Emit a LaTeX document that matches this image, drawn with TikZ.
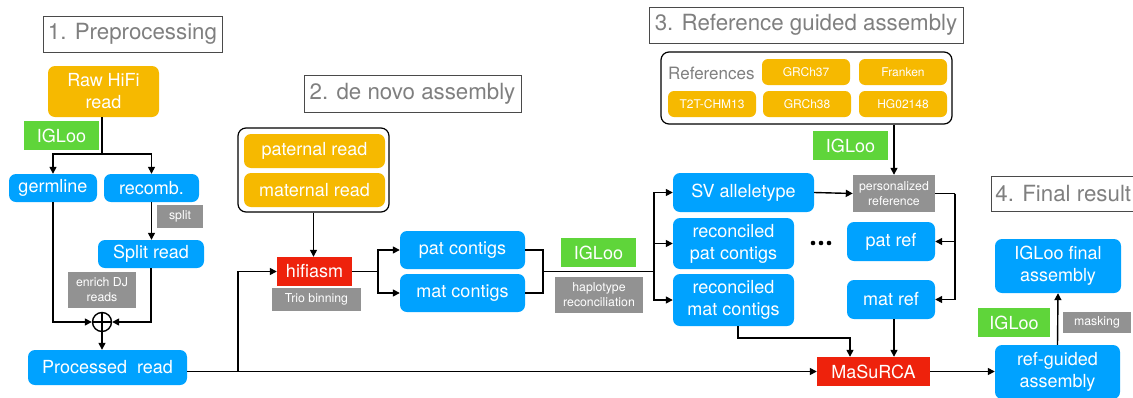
\documentclass[tikz,border=0pt]{standalone}
\usepackage{fontspec}
\setmainfont{TeX Gyre Heros}
\usetikzlibrary{arrows.meta}
\definecolor{kOrange}{HTML}{F6B900}
\definecolor{kBlue}{HTML}{00A2FF}
\definecolor{kGreen}{HTML}{5FD53A}
\definecolor{kRed}{HTML}{EE220C}
\definecolor{kGray}{HTML}{929292}
\definecolor{kTitle}{HTML}{7F7F7F}
\definecolor{kFrame}{HTML}{4A4A4A}
\newcommand\fsMain{\fontsize{18}{22}\selectfont}
\newcommand\fsSmall{\fontsize{12.3}{14.8}\selectfont}
\newcommand\fsTitle{\fontsize{22.3}{26}\selectfont}
\newcommand\fsRefItem{\fontsize{12}{14}\selectfont}
\newcommand\fsRefs{\fontsize{17}{20}\selectfont}
\begin{document}
\begin{tikzpicture}[x=1pt,y=-1pt,
  sz/.style 2 args={minimum width=#1pt, minimum height=#2pt},
  base/.style={inner sep=0pt, text=white, align=center},
  bluebox/.style={base, fill=kBlue, rounded corners=7pt, font=\fsMain},
  orangebox/.style={base, fill=kOrange, rounded corners=7pt, font=\fsMain},
  refitem/.style={base, fill=kOrange, rounded corners=6pt, font=\fsRefItem, sz={88}{26}},
  toolbox/.style={base, fill=kGreen, font=\fsMain, sz={75}{29}},
  notebox/.style={base, fill=kGray, font=\fsSmall},
  progbox/.style={base, fill=kRed, font=\fsMain},
  titlebox/.style={draw=kFrame, line width=0.9pt, text=kTitle, font=\fsTitle, inner sep=0pt},
  groupbox/.style={draw=black, line width=1.2pt, rounded corners=8pt, fill=white},
  conn/.style={draw=black, line width=1.4pt},
  arr/.style={conn, -{Triangle[length=7pt,width=7pt]}}
]
\useasboundingbox (0,0) rectangle (1133,397);

% ---------- section titles ----------
\node[titlebox, sz={179}{36}] (t1) at (132.5,34) {1. Preprocessing};
\node[titlebox, sz={217}{37}] (t2) at (412.5,93.5) {2. de novo assembly};
\node[titlebox, sz={314}{36}] (t3) at (806,25) {3. Reference guided assembly};
\node[titlebox, minimum height=35pt, anchor=west, inner xsep=4pt] (t4) at (991,193.5) {4. Final result};

% ---------- 1. preprocessing ----------
\node[orangebox, sz={111}{51}] (raw) at (103.5,91.5) {Raw HiFi\\read};
\node[toolbox] (ig1) at (61.5,135.5) {IGLoo};
\node[bluebox, sz={88}{28}] (germ) at (53,188) {germline};
\node[bluebox, sz={95}{28}] (recomb) at (151.5,188) {recomb.};
\node[notebox, sz={46}{23}] (splitnote) at (180,216.5) {split};
\node[bluebox, sz={106}{28}] (sr) at (151,254) {Split read};
\node[notebox, sz={68}{36}] (enrich) at (102,290) {enrich DJ\\reads};
\node[circle, draw=black, line width=1.4pt, minimum size=19pt, inner sep=0pt] (op) at (102,322) {};
\draw[conn] (op.north) -- (op.south) (op.west) -- (op.east);
\node[bluebox, sz={159}{35}] (proc) at (107.5,367.5) {Processed\ \ read};

\coordinate (j0) at (102,154);
\draw[conn] (j0 |- raw.south) -- (j0);
\draw[arr] (j0) -| (germ.north);
\draw[arr] (j0) -| (recomb.north);
\draw[arr] (recomb.south) -- (recomb.south |- sr.north);
\draw[arr] (germ.south) |- (op.west);
\draw[arr] (sr.south) |- (op.east);
\draw[arr] (op.south) -- (op.south |- proc.north);

% ---------- 2. de novo assembly ----------
\node[groupbox, sz={151}{84}] (parents) at (313.5,170) {};
\node[orangebox, sz={141}{34}] (patread) at (314.5,151) {paternal read};
\node[orangebox, sz={141}{34}] (matread) at (314.5,190) {maternal read};
\node[progbox, sz={75}{29}] (hif) at (314.5,271.5) {hifiasm};
\node[notebox, sz={89}{23}] (trio) at (316.5,299.5) {Trio binning};
\node[bluebox, sz={125}{38}] (patc) at (462.5,250) {pat contigs};
\node[bluebox, sz={125}{38}] (matc) at (462.5,293) {mat contigs};

\draw[arr] (parents.south) -- (parents.south |- hif.north);

% ---------- 3. reference guided assembly ----------
\node[groupbox, sz={291}{72}] (refs) at (806.5,88) {};
\node[anchor=west, inner sep=0pt, text=kTitle, font=\fsRefs] (reflabel) at (668,73) {References};
\node[refitem] (grch37) at (806,72) {GRCh37};
\node[refitem] (franken) at (903,72) {Franken};
\node[refitem] (t2t) at (712,104) {T2T-CHM13};
\node[refitem] (grch38) at (807,104) {GRCh38};
\node[refitem] (hg) at (903,104) {HG02148};

\node[toolbox] (ig3) at (850.5,145.5) {IGLoo};
\node[notebox, sz={82}{37}] (pers) at (894,193.5) {personalized\\reference};
\node[bluebox, sz={141}{39}] (sv) at (743.5,192.5) {SV alleletype};
\node[bluebox, sz={121}{51}] (rpat) at (733.5,243.5) {reconciled\\pat contigs};
\node[bluebox, sz={121}{52}] (rmat) at (733.5,300) {reconciled\\mat contigs};
\node[bluebox, sz={88}{39}] (patref) at (891,241.5) {pat ref};
\node[bluebox, sz={88}{39}] (matref) at (891,299.5) {mat ref};
\node[progbox, sz={113}{29}] (mas) at (873.5,371.5) {MaSuRCA};
\node[toolbox] (ig2) at (598.5,252.5) {IGLoo};
\node[notebox, sz={88}{36}] (haplo) at (599,295) {haplotype\\reconciliation};

\foreach \dx in {813,821,829} \fill (\dx,243) circle (2.3pt);

% ---------- 4. final result ----------
\node[bluebox, sz={126}{54}] (final) at (1058,266) {IGLoo final\\assembly};
\node[toolbox, sz={72}{29}] (ig4) at (1014,322.5) {IGLoo};
\node[notebox, sz={68}{21}] (mask) at (1097,322.5) {masking};
\node[bluebox, sz={125}{54}] (refg) at (1057.5,372) {ref-guided\\assembly};

% ---------- connectors ----------
\coordinate (j1) at (238,371.5);
\draw[arr] (proc.east |- mas.west) -- (mas.west);
\draw[arr] (j1) |- (hif.west);

\coordinate (j2) at (378,271.5);
\draw[conn] (hif.east) -- (j2);
\draw[arr] (j2) |- (patc.west);
\draw[arr] (j2) |- (matc.west);

\coordinate (j3) at (543,271.5);
\coordinate (j4) at (654,271.5);
\draw[conn] (patc.east) -| (j3) |- (matc.east);
\draw[conn] (j3) -- (j4);
\draw[arr] (j4) |- (sv.west);
\draw[arr] (j4) |- (rpat.west);
\draw[arr] (j4) |- (rmat.west);

\draw[arr] (pers.north |- refs.south) -- (pers.north);
\draw[arr] (sv.east) -- (pers.west);

\coordinate (j5) at (955,193.5);
\draw[conn] (pers.east) -- (j5);
\draw[arr] (j5) |- (patref.east);
\draw[arr] (j5) |- (matref.east);

\coordinate (j6) at (850,338);
\draw[arr] ([xshift=4.5pt]rmat.south) |- (j6) -- (j6 |- mas.north);
\draw[arr] ([xshift=3pt]matref.south) -- ([xshift=3pt]matref.south |- mas.north);

\draw[arr] (mas.east) -- (refg.west |- mas.east);
\draw[arr] (refg.north) -- (final.south);
\end{tikzpicture}
\end{document}
